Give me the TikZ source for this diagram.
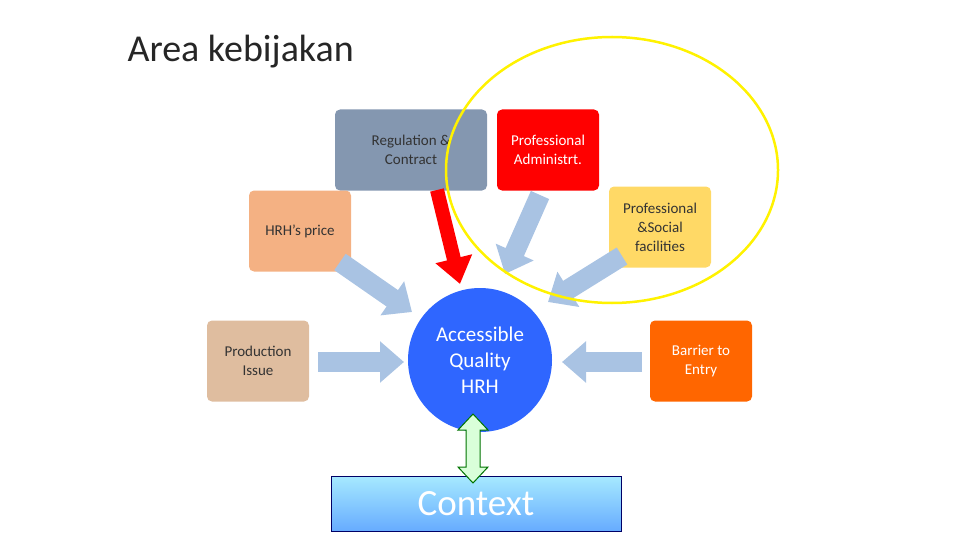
\documentclass[tikz,border=0pt]{standalone}
\usepackage{fontspec}
\setmainfont{Carlito}
\usetikzlibrary{arrows.meta}
\definecolor{regc}{HTML}{8497B0}
\definecolor{pric}{HTML}{F4B183}
\definecolor{proc}{HTML}{DFBD9F}
\definecolor{facc}{HTML}{FFD966}
\definecolor{barc}{HTML}{FF6600}
\definecolor{circc}{HTML}{2F66FF}
\definecolor{arrc}{HTML}{A9C3E3}
\begin{document}
\begin{tikzpicture}[x=1pt,y=-1pt,
  boxs/.style={rounded corners=5pt,minimum width=102pt,minimum height=81pt,inner sep=0pt,align=center,font=\fontsize{15}{19}\selectfont},
  blk/.style={line width=20pt,color=arrc,-{Triangle[width=40pt,length=24pt]}}]
\useasboundingbox (0,0) rectangle (960,540);
\node[anchor=west,font=\fontsize{38}{44}\selectfont,text=black!85] (title) at (124,52) {Area kebijakan};
\node[boxs,fill=regc,minimum width=152pt,text=black!80] (reg) at (411,150) {Regulation \&\\Contract};
\node[boxs,fill=red,text=white] (adm) at (548,150) {Professional\\Administrt.};
\node[boxs,fill=facc,text=black!80] (fac) at (660,227) {Professional\\\&Social\\facilities};
\node[boxs,fill=pric,text=black!80] (pri) at (300,231) {HRH's price};
\node[boxs,fill=proc,text=black!80] (pro) at (258,361) {Production\\Issue};
\node[boxs,fill=barc,text=white] (bar) at (701,361) {Barrier to\\Entry};
\node[circle,fill=circc,minimum size=144pt,inner sep=0pt,align=center,text=white,font=\fontsize{21}{26}\selectfont] (hrh) at (480,360) {Accessible\\Quality\\HRH};
\node[draw=blue!40!black,line width=1pt,top color=blue!25!cyan!35,bottom color=blue!55!cyan!60,minimum width=290pt,minimum height=55pt,text=white,font=\fontsize{37}{42}\selectfont] (ctx) at (476,504) {Context};
\coordinate (a1s) at (340,262); \coordinate (a1e) at (412,312);
\coordinate (a2s) at (318,362); \coordinate (a2e) at (404,362);
\coordinate (a3s) at (540,195); \coordinate (a3e) at (505,274);
\coordinate (a4s) at (622,256); \coordinate (a4e) at (548,302);
\coordinate (a5s) at (642,362); \coordinate (a5e) at (562,362);
\coordinate (a6s) at (437,190); \coordinate (a6e) at (460,284);
\draw[blk] (a1s) -- (a1e);
\draw[blk] (a2s) -- (a2e);
\draw[blk] (a3s) -- (a3e);
\draw[blk] (a4s) -- (a4e);
\draw[blk] (a5s) -- (a5e);
\draw[line width=14pt,color=red,-{Triangle[width=36pt,length=26pt]}] (a6s) -- (a6e);
\draw[green!45!black,line width=1pt,fill=green!15] (473,414) -- (488,430) -- (480,430) -- (480,467) -- (488,467) -- (473,483) -- (458,467) -- (466,467) -- (466,430) -- (458,430) -- cycle;
\draw[yellow,line width=2.5pt] (612,170) ellipse [x radius=166pt,y radius=133pt];
\end{tikzpicture}
\end{document}
